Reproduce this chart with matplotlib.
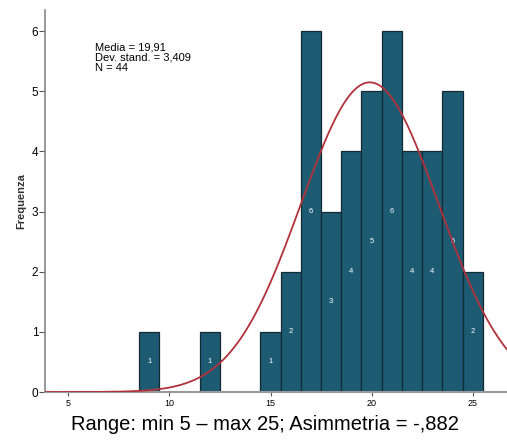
import numpy as np
import matplotlib
matplotlib.use("Agg")
import matplotlib.pyplot as plt

# Data
bins = [9, 12, 15, 16, 17, 18, 19, 20, 21, 22, 23, 24, 25]
counts = [1, 1, 1, 2, 6, 3, 4, 5, 6, 4, 4, 5, 2]
mean = 19.91
sd = 3.409
n = 44
xticks = [5, 10, 15, 20, 25]
yticks = [0, 1, 2, 3, 4, 5, 6]

plt.rcParams['font.family'] = ['Liberation Sans', 'DejaVu Sans']

fig = plt.figure(figsize=(5.07, 4.40), dpi=100)
ax = fig.add_axes([0.089, 0.109, 0.911, 0.868])

bar_color = '#1d5b72'
edge_color = '#142a33'
ax.bar(bins, counts, width=1.0, color=bar_color, edgecolor=edge_color, linewidth=0.9, zorder=2)

for b, c in zip(bins, counts):
    ax.text(b, c / 2, str(c), color='white', ha='center', va='center', fontsize=5.5, zorder=3)

xs = np.linspace(3.8, 27, 400)
ys = n * 1.0 * np.exp(-0.5 * ((xs - mean) / sd) ** 2) / (sd * np.sqrt(2 * np.pi))
ax.plot(xs, ys, color='#b2323b', linewidth=1.3, zorder=4)

ax.set_xlim(3.85, 26.7)
ax.set_ylim(0, 6.35)
ax.set_xticks(xticks)
ax.set_yticks(yticks)
ax.tick_params(axis='x', labelsize=6.5, length=3, color='#555555', pad=2)
ax.tick_params(axis='y', labelsize=8.5, length=4, color='#555555', pad=1)

for s in ['top', 'right']:
    ax.spines[s].set_visible(False)
ax.spines['left'].set_color('#888888')
ax.spines['bottom'].set_color('#999999')
ax.spines['left'].set_linewidth(1.2)
ax.spines['bottom'].set_linewidth(1.5)

ax.set_ylabel('Frequenza', fontsize=8, fontweight='bold', color='#333333', labelpad=4)

ax.text(0.108, 0.915, f"Media = 19,91\nDev. stand. = 3,409\nN = {n}",
        transform=ax.transAxes, fontsize=8, va='top', ha='left', linespacing=1.0)

fig.text(0.523, 0.035, 'Range: min 5 – max 25; Asimmetria = -,882', ha='center', va='center', fontsize=14.5)

fig.savefig('out.png', dpi=100)
